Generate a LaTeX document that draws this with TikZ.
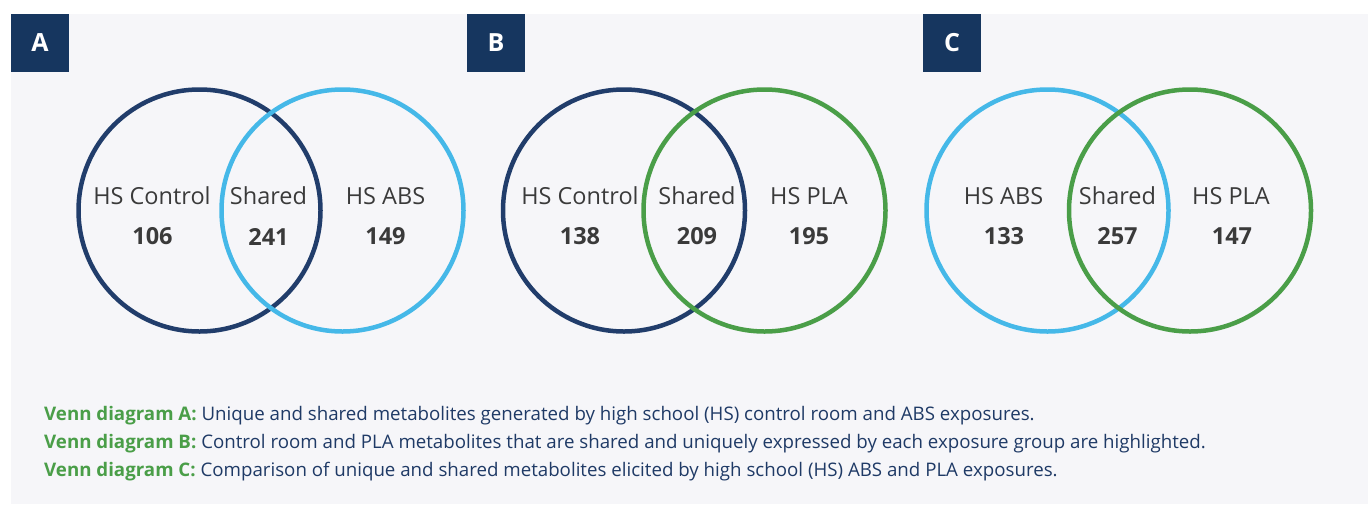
\documentclass[tikz,border=0pt]{standalone}
\usepackage{fontspec}
\setmainfont{Open Sans}
\usepackage{tikz}

\definecolor{navybox}{HTML}{16365F}
\definecolor{navyline}{HTML}{213D6B}
\definecolor{skyline}{HTML}{45B8E8}
\definecolor{leafline}{HTML}{4A9E48}
\definecolor{paper}{HTML}{F6F6F9}
\definecolor{inkgray}{HTML}{3A3A3A}
\definecolor{capnavy}{HTML}{1F3A66}

\begin{document}
\begin{tikzpicture}[x=1pt, y=-1pt,
    ring/.style = {draw, circle, line width=4.5pt, minimum size=242pt, inner sep=0pt},
    tag/.style = {fill=navybox, text=white, minimum size=58pt, inner sep=0pt, font=\fontsize{25}{30}\selectfont\bfseries},
    setname/.style = {text=inkgray, font=\fontsize{23.5}{28}\selectfont, inner sep=0pt},
    count/.style = {text=inkgray, font=\fontsize{23.5}{28}\selectfont\bfseries, inner sep=0pt},
    caption/.style = {anchor=base west, text=capnavy, font=\fontsize{18.7}{22}\selectfont, inner sep=0pt}]
            \useasboundingbox (0,0) rectangle (1368,504);
            \fill[white] (0,0) rectangle (1368,504);
            \fill[paper] (11,14) rectangle (1368,504);

            % panel tags
            \node[tag] (tagA) at (40,43) {A};
            \node[tag] (tagB) at (496,43) {B};
            \node[tag] (tagC) at (952,43) {C};

            % Venn A
            \node[ring, navyline] (a1) at (199.5,210.5) {};
            \node[ring, skyline] (a2) at (342.5,210.5) {};
            \node[setname] (a1n) at (152,196) {HS Control};
            \node[setname] (a0n) at (268.5,196) {Shared};
            \node[setname] (a2n) at (385.5,196) {HS ABS};
            \node[count] (a1c) at (152.5,236.5) {106};
            \node[count] (a0c) at (268.5,236.5) {241};
            \node[count] (a2c) at (385.5,236.5) {149};

            % Venn B
            \node[ring, navyline] (b1) at (624,210.5) {};
            \node[ring, leafline] (b2) at (764.5,210.5) {};
            \node[setname] (b1n) at (580,196) {HS Control};
            \node[setname] (b0n) at (697,196) {Shared};
            \node[setname] (b2n) at (809,196) {HS PLA};
            \node[count] (b1c) at (580,236.5) {138};
            \node[count] (b0c) at (697,236.5) {209};
            \node[count] (b2c) at (809,236.5) {195};

            % Venn C
            \node[ring, skyline] (c1) at (1047.5,210.5) {};
            \node[ring, leafline] (c2) at (1190,210.5) {};
            \node[setname] (c1n) at (1003.5,196) {HS ABS};
            \node[setname] (c0n) at (1117.5,196) {Shared};
            \node[setname] (c2n) at (1231,196) {HS PLA};
            \node[count] (c1c) at (1004,236.5) {133};
            \node[count] (c0c) at (1117.5,236.5) {257};
            \node[count] (c2c) at (1232,236.5) {147};

            % captions
            \node[caption] (capA) at (44,420) {\textcolor{leafline}{\bfseries Venn diagram A:} Unique and shared metabolites generated by high school (HS) control room and ABS exposures.};
            \node[caption] (capB) at (44,448) {\textcolor{leafline}{\bfseries Venn diagram B:} Control room and PLA metabolites that are shared and uniquely expressed by each exposure group are highlighted.};
            \node[caption] (capC) at (44,476) {\textcolor{leafline}{\bfseries Venn diagram C:} Comparison of unique and shared metabolites elicited by high school (HS) ABS and PLA exposures.};
        \end{tikzpicture}
\end{document}
